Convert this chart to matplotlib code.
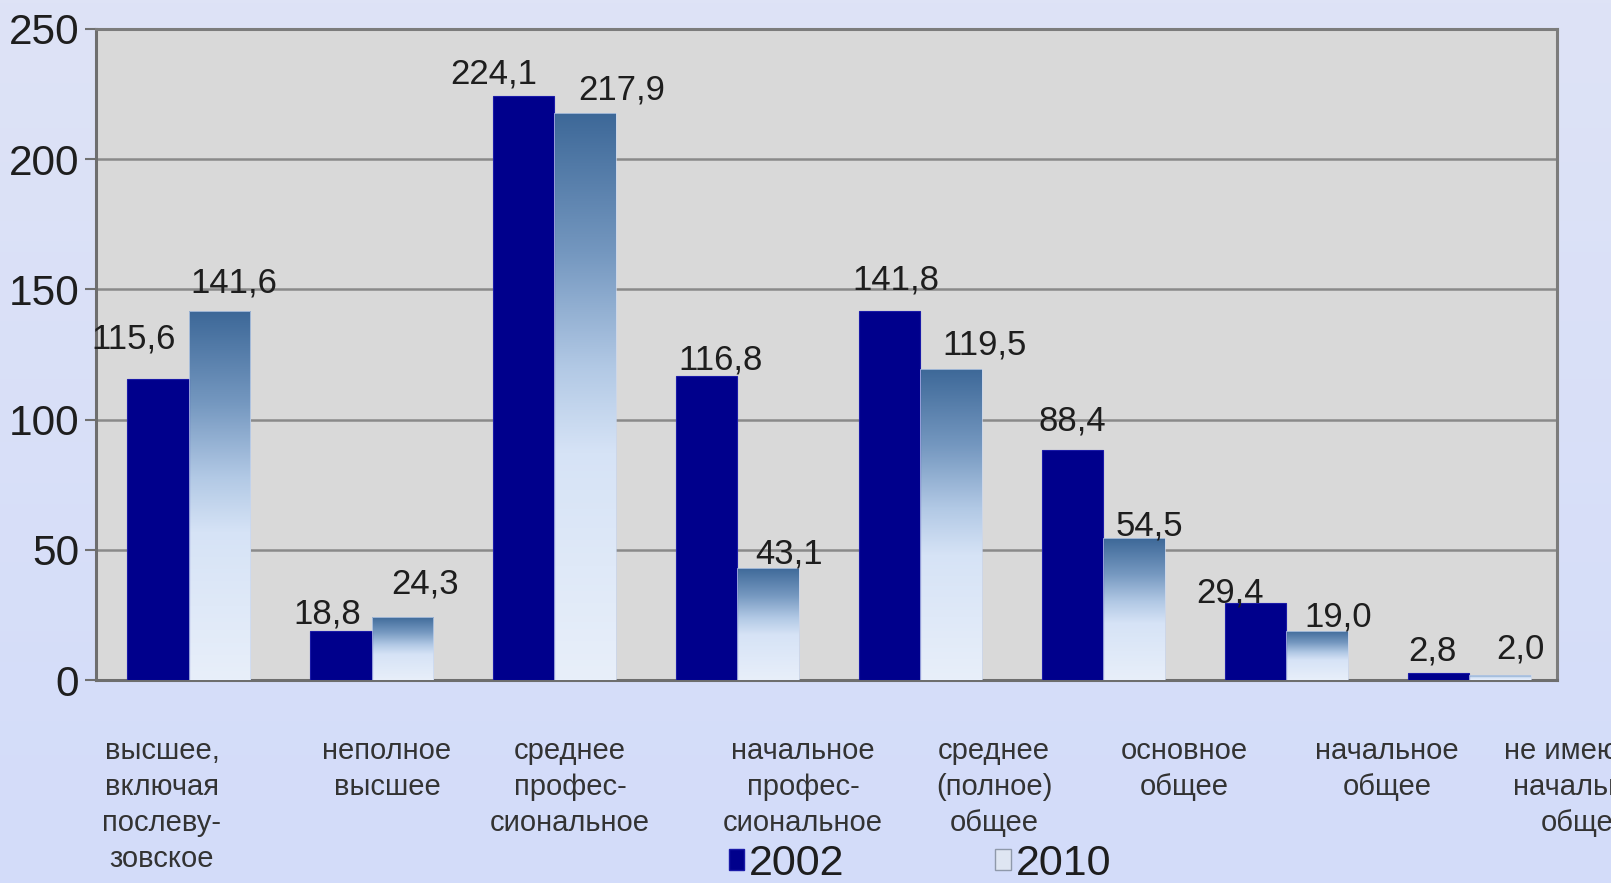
import numpy as np
import matplotlib
matplotlib.use("Agg")
import matplotlib.pyplot as plt
from matplotlib.colors import LinearSegmentedColormap
from matplotlib.patches import Patch

# ---------------- data ----------------
categories = [
    "высшее,\nвключая\nпослеву-\nзовское",
    "неполное\nвысшее",
    "среднее\nпрофес-\nсиональное",
    "начальное\nпрофес-\nсиональное",
    "среднее\n(полное)\nобщее",
    "основное\nобщее",
    "начальное\nобщее",
    "не имеющие\nначального\nобщего",
]
values_2002 = [115.6, 18.8, 224.1, 116.8, 141.8, 88.4, 29.4, 2.8]
values_2010 = [141.6, 24.3, 217.9, 43.1, 119.5, 54.5, 19.0, 2.0]
series_labels = ["2002", "2010"]
y_ticks = [0, 50, 100, 150, 200, 250]

# ---------------- layout / style ----------------
W, H = 1611, 883
label_x_px = [162, 387, 570, 803, 994, 1184, 1387, 1590]   # category label centres
off_2002 = [(-24, 40), (-13, 17), (-30, 22), (14, 16), (6, 31), (0, 29), (-25, 10), (-6, 22)]
off_2010 = [(14, 28), (23, 33), (36, 23), (21, 14), (33, 24), (15, 12), (21, 14), (20, 26)]

plt.rcParams["font.family"] = ["Liberation Sans", "DejaVu Sans"]

fig = plt.figure(figsize=(W / 100, H / 100), dpi=100)

# background gradient
bg = fig.add_axes([0, 0, 1, 1], zorder=-10)
bg_cmap = LinearSegmentedColormap.from_list("bg", ["#d3dcfa", "#dee3f6"])
bg.imshow(np.linspace(0, 1, 256).reshape(-1, 1), cmap=bg_cmap, aspect="auto",
          origin="lower", extent=[0, 1, 0, 1])
bg.set_axis_off()

ax = fig.add_axes([96 / W, 1 - 680 / H, (1557 - 96) / W, (680 - 29) / H])
ax.set_facecolor("#d9d9d9")

x = np.arange(len(categories))
bw = 0.337
c2002 = "#00008c"

bars1 = ax.bar(x - bw / 2, values_2002, bw, color=c2002, edgecolor="#1a1aa8",
               linewidth=0.8, zorder=3)
bars2 = ax.bar(x + bw / 2, values_2010, bw, color="none", edgecolor="#c8d6ee",
               linewidth=0.5, zorder=3)

grad_cmap = LinearSegmentedColormap.from_list(
    "g2010",
    [(0.0, "#e8effa"), (0.40, "#d6e3f6"), (0.55, "#b2c9e5"),
     (0.75, "#7598c0"), (1.0, "#3d6898")])
grad = np.linspace(0, 1, 256).reshape(-1, 1)
for b in bars2:
    x0, w, h = b.get_x(), b.get_width(), b.get_height()
    im = ax.imshow(grad, cmap=grad_cmap, origin="lower", aspect="auto",
                   extent=[x0, x0 + w, 0, h], zorder=2.9)
    im.set_clip_path(b)

ax.set_xlim(-0.506, 7.48)
ax.set_ylim(0, 250)
ax.set_yticks(y_ticks)
ax.set_yticklabels([str(t) for t in y_ticks], fontsize=30.5, color="#1e1e1e")
ax.tick_params(axis="y", length=8, width=1.5, color="#707070", pad=4)
ax.set_xticks([])
ax.yaxis.grid(True, color="#8a8a8a", linewidth=1.8, zorder=1)
ax.set_axisbelow(True)
for s in ["left", "bottom"]:
    ax.spines[s].set_color("#6e6e6e")
    ax.spines[s].set_linewidth(2.2)
for s in ["top", "right"]:
    ax.spines[s].set_color("#7c7c7c")
    ax.spines[s].set_linewidth(2.2)


def fmt(v):
    return f"{v:.1f}".replace(".", ",")


for b, v, (dx, dy) in zip(bars1, values_2002, off_2002):
    ax.annotate(fmt(v), (b.get_x() + b.get_width() / 2, b.get_height()),
                xytext=(dx, dy), textcoords="offset pixels", ha="center",
                va="center", fontsize=25, color="#1e1e1e", zorder=5)
for b, v, (dx, dy) in zip(bars2, values_2010, off_2010):
    ax.annotate(fmt(v), (b.get_x() + b.get_width() / 2, b.get_height()),
                xytext=(dx, dy), textcoords="offset pixels", ha="center",
                va="center", fontsize=25, color="#1e1e1e", zorder=5)

# category labels
for lab, px in zip(categories, label_x_px):
    fig.text(px / W, 1 - 737 / H, lab, ha="center", va="top", fontsize=21,
             color="#333333", linespacing=1.36)

# legend
handles = [Patch(facecolor=c2002, edgecolor="#1a1aa8"),
           Patch(facecolor="#dfe6f2", edgecolor="#8f99aa")]
fig.legend(handles, series_labels, loc="center left",
           bbox_to_anchor=(729 / W, 1 - 864 / H), ncol=2, frameon=False,
           fontsize=31, handlelength=0.35, handleheight=0.35,
           handletextpad=0.12, columnspacing=3.5, borderpad=0,
           borderaxespad=0, labelcolor="#1e1e1e")

fig.savefig("out.png", dpi=100)
